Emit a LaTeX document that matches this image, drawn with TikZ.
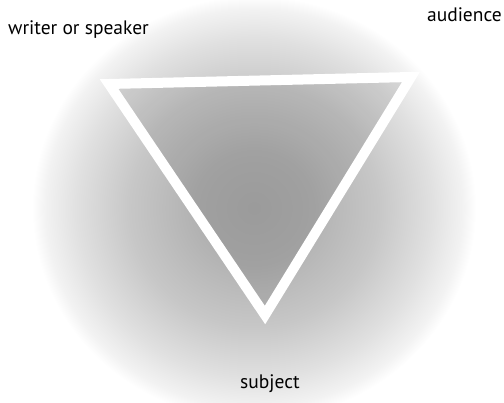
\documentclass[tikz,border=0pt]{standalone}
\usepackage{fontspec}
\setmainfont{PT Sans}
\pgfdeclareradialshading{stipple}{\pgfpoint{0bp}{0bp}}{%
  color(0bp)=(black!33); color(6bp)=(black!31); color(14bp)=(black!22);
  color(20bp)=(black!12); color(23.5bp)=(black!5); color(25bp)=(white); color(50bp)=(white)}
\tikzset{
  lbl/.style={font=\fontsize{19.5}{22}\selectfont, text=black, inner sep=0pt},
  band/.style={draw=white, line width=10pt, line join=miter}
}
\begin{document}
\begin{tikzpicture}[x=1pt,y=-1pt]
\useasboundingbox (0,0) rectangle (504,403);
% stippled disc
\shade[shading=stipple] (254,208) ellipse [x radius=222, y radius=212];
% darker triangle interior
\coordinate (tl) at (109,84);
\coordinate (tr) at (411,77);
\coordinate (bt) at (265,315);
\fill[black, opacity=0.09] (tl) -- (tr) -- (bt) -- cycle;
% white triangle band
\draw[band] (tl) -- (tr) -- (bt) -- cycle;
% labels
\node[lbl, anchor=base west] (writer) at (8,35) {writer or speaker};
\node[lbl, anchor=base east] (aud) at (502,22) {audience};
\node[lbl, anchor=base] (subj) at (270,389) {subject};
\end{tikzpicture}
\end{document}
